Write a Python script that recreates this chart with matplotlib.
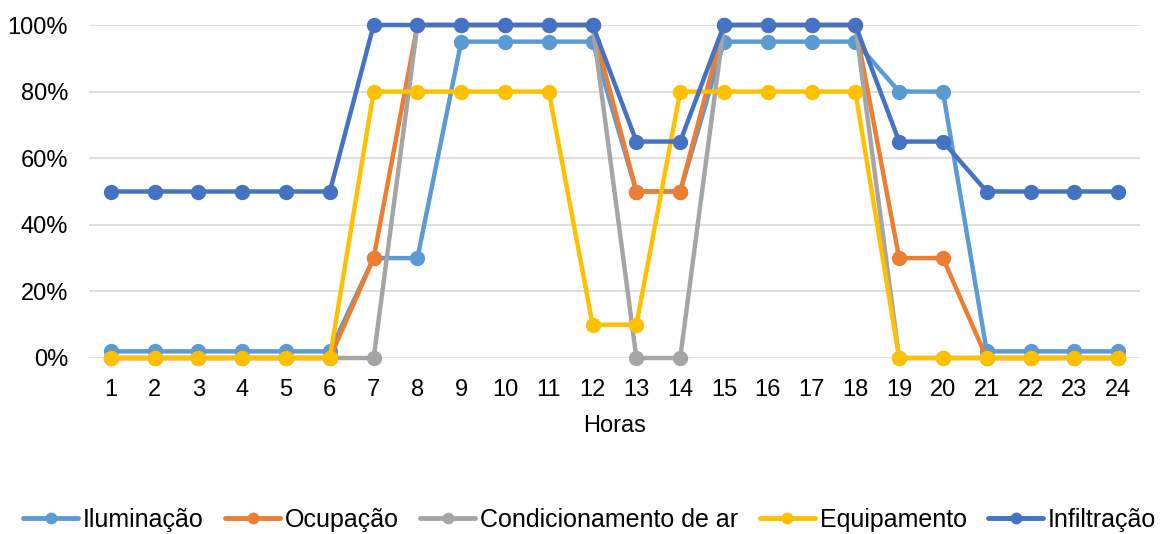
import matplotlib
matplotlib.use("Agg")
import matplotlib.pyplot as plt
from matplotlib.ticker import PercentFormatter
from matplotlib.lines import Line2D

plt.rcParams['font.family'] = ['Liberation Sans', 'DejaVu Sans']

horas = list(range(1, 25))
iluminacao = [2, 2, 2, 2, 2, 2, 30, 30, 95, 95, 95, 95, 50, 50, 95, 95, 95, 95, 80, 80, 2, 2, 2, 2]
ocupacao = [0, 0, 0, 0, 0, 0, 30, 100, 100, 100, 100, 100, 50, 50, 100, 100, 100, 100, 30, 30, 0, 0, 0, 0]
condicionamento = [0, 0, 0, 0, 0, 0, 0, 100, 100, 100, 100, 100, 0, 0, 100, 100, 100, 100, 0, 0, 0, 0, 0, 0]
equipamento = [0, 0, 0, 0, 0, 0, 80, 80, 80, 80, 80, 10, 10, 80, 80, 80, 80, 80, 0, 0, 0, 0, 0, 0]
infiltracao = [50, 50, 50, 50, 50, 50, 100, 100, 100, 100, 100, 100, 65, 65, 100, 100, 100, 100, 65, 65, 50, 50, 50, 50]

series = [
    ("Iluminação", iluminacao, "#5B9BD5"),
    ("Ocupação", ocupacao, "#ED7D31"),
    ("Condicionamento de ar", condicionamento, "#A5A5A5"),
    ("Equipamento", equipamento, "#FFC000"),
    ("Infiltração", infiltracao, "#4472C4"),
]

fig = plt.figure(figsize=(11.62, 5.34), dpi=100)
ax = fig.add_axes([89 / 1162, 1 - 358 / 534, (1140 - 89) / 1162, (358 - 25) / 534])

for name, vals, color in series:
    ln, = ax.plot(horas, vals, color=color, lw=3.2, marker='o', ms=10, label=name,
                  solid_capstyle='round', zorder=3)
    ln.set_clip_on(False)

ax.set_xlim(0.5, 24.5)
ax.set_ylim(0, 100)
ax.set_yticks(range(0, 101, 20))
ax.yaxis.set_major_formatter(PercentFormatter(100, decimals=0))
ax.set_xticks(horas)
ax.grid(axis='y', color='#D9D9D9', lw=1.2, zorder=0)
ax.set_axisbelow(True)
for s in ax.spines.values():
    s.set_visible(False)
ax.tick_params(length=0, labelsize=17, colors='#000000')
ax.tick_params(axis='x', pad=15)
ax.tick_params(axis='y', pad=15)
ax.set_xlabel("Horas", fontsize=17, labelpad=10)

handles = [Line2D([0], [0], color=c, lw=3.5, marker='o', ms=7.5, solid_capstyle='round')
           for _, _, c in series]
labels = [n for n, _, _ in series]
fig.legend(handles, labels, loc='center', bbox_to_anchor=(0.5075, 1 - 520 / 534), ncol=5,
           frameon=False, fontsize=18, handlelength=2.2, handletextpad=0.2,
           columnspacing=0.85, borderaxespad=0)

fig.savefig("out.png", dpi=100)
